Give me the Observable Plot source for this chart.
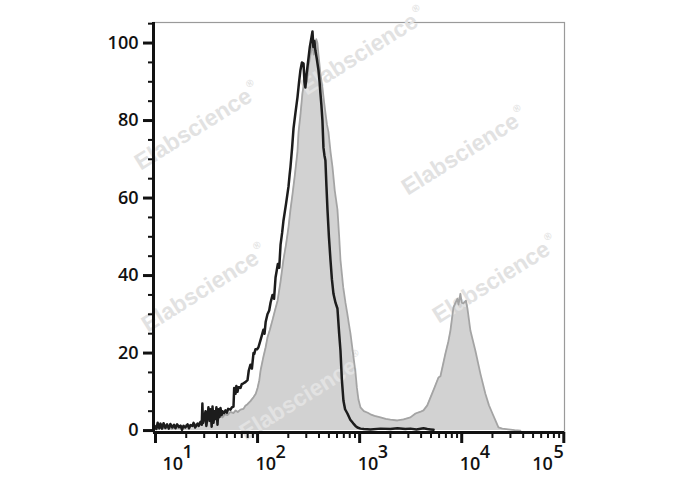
<!DOCTYPE html>
<html>
<head>
<meta charset="utf-8">
<script src="https://cdn.jsdelivr.net/npm/d3@7"></script>
<script src="https://cdn.jsdelivr.net/npm/@observablehq/plot@0.6"></script>
<style>
  html, body { margin: 0; padding: 0; background: #fff; }
  #chart svg { display: block; }
</style>
</head>
<body>
<div id="chart"></div>
<script>
// Filled (gray) histogram: fluorescence intensity vs % of max
const grayX = [10,10.8,11.5,12.5,13.5,14.5,15.7,17,18.8,20.6,22,23.6,25.8,27.6,29.5,31,33,35,37,39,41.4,43.3,45.3,48,50.7,54.3,58,61,64,68,72.8,76,79.7,85.2,91.2,96,100,104,107,114,120,125,132,140,148,157,168,179,190,201,210,220,232,246,252,262,275,294,305,315,330,345,355,365,376,386,395,413,432,447,462,478,495,518,542,570,606,630,649,690,726,759,790,813,850,880,910,940,973,1018,1100,1200,1276,1400,1600,1800,2000,2346,2700,3144,3525,3900,4221,4600,4938,5400,5920,6188,6926,7400,7751,8298,8700,9075,9300,9710,10000,10380,11000,11370,12160,13610,15230,17050,18500,20000,21500,22880,25000,28640,33000,37580];
const grayY = [0.8,0.4,0.9,0.5,1.0,0.4,0.9,0.6,1.2,1.5,1.0,1.8,1.4,2.4,1.8,3.0,2.4,3.4,2.6,3.6,3.0,3.8,3.4,4.2,4.0,4.8,4.5,5.2,4.8,5.4,5.6,6.4,6.8,7.6,8.6,9.5,11,13,15.5,19,21.5,24,26,28.5,31,33.5,38.5,44,48,52.5,57,61,66,72,77,81,87,92,90,94,97,99.5,97,98.5,101,100,97,92,88.5,85,82,79,77,72,68,62,57,50,44,37,33,30,27,25,21,18,15,11,8,6,5,4.6,4.2,3.8,3.4,3.0,2.8,2.6,2.9,3.4,4.4,4.8,5.2,6.5,8.5,11,13.7,14,19.9,23,25.8,31.8,33,34,32.5,35.3,33,32.8,33.5,31.5,25.8,20.6,14.7,9.5,6.5,4.4,2.5,0.8,0.5,0.3,0.1,0];

// Open (black) histogram
const blackX = [9.8,10.2,10.5,10.9,11.2,11.6,12,12.5,13,13.5,14,14.6,15.2,15.7,16.3,17,17.6,18.2,18.8,19.6,20.6,21.3,22,23,23.6,24.5,25.8,26.5,27.6,28.4,28.8,29.2,30,30.9,31.5,32.5,33,34,34.6,35.5,36.2,37,38,38.7,39.5,40.5,41.4,42.3,43.3,44.5,45.3,47,48.5,50,51.5,54.3,56,58.1,59,60.8,62,63.6,65,68.1,70,72.8,76,79.7,82,85.2,88,91.2,93,95.3,99,102,106,110,114,117,120,125,130,134,140,145,150,158,163,168,174,179,190,201,206,210,218,225,235,246,255,263,272,282,288,294,302,315,325,335,345,352,360,369,380,395,405,413,422,432,442,452,462,473,484,500,518,535,554,580,606,630,649,670,694,720,759,810,869,910,951,1018,1100,1276,1600,2000,2346,2800,3144,3600,4221,4600,4938,5300];
const blackY = [1.2,0.4,2.0,0.6,1.8,0.5,1.9,0.7,1.6,0.5,1.7,0.8,1.5,0.6,1.6,0.9,1.3,0.2,1.2,0.8,1.6,0.6,1.4,1.2,2.0,0.8,1.8,1.2,2.2,1.5,7.0,2.0,3.0,5.0,1.2,4.0,6.0,2.5,5.5,1.0,6.2,2.0,5.0,3.0,6.0,1.5,5.5,3.5,5.8,4.0,5.0,4.5,5.2,4.6,5.6,5.4,6.0,6.2,11,9.5,11.5,10,11.2,11,12,12.2,12.5,13,15.5,17,16,20,19.8,21,21,21.5,23,24.5,26,25,28,30,31,33,35,34,39.5,43,42,48,51,54,58.5,63,66,68,73,78,82,86,90,93,95,94.7,90,88.5,92,96,99,101,103,99,100.5,98,96,93,90,87,84,80,73,71,69.7,63,57,50,44,39,35.3,33,31.5,25,20.6,13,7.7,5.5,4.4,2.8,1.8,1.2,0.8,0.5,0.4,0.3,0.5,0.4,0.6,0.4,0.5,0.3,0.6,0.4,0.3,0.2];

// Axis ticks and labels
const yMajor = [0, 20, 40, 60, 80, 100];
const yMinor = [5, 10, 15, 25, 30, 35, 45, 50, 55, 65, 70, 75, 85, 90, 95, 105];
const xExponents = [1, 2, 3, 4, 5];
const xMinorMultipliers = [2, 3, 4, 5, 6, 7, 8, 9];
const watermarkText = "Elabscience";

const grayData = grayX.map((x, i) => ({x, y: grayY[i]}));
const blackData = blackX.map((x, i) => ({x, y: blackY[i]}));
const xMajor = xExponents.map(e => 10 ** e);
const xMinor = xExponents.slice(0, -1).flatMap(e => xMinorMultipliers.map(m => m * 10 ** e));

const xDomain = [9.56, 101600];
const yDomain = [-0.5, 105.3];

const FONT = "'Open Sans', 'Liberation Sans', sans-serif";

// watermark placement (svg pixels)
const wmPlaces = [[198,128],[364,53],[465,153],[205,290],[496,281],[303,398]];
const watermarks = () => {
  const g = d3.create("svg:g");
  for (const [cx, cy] of wmPlaces) {
    const t = g.append("text")
      .attr("transform", `translate(${cx},${cy}) rotate(-32)`)
      .attr("text-anchor", "middle")
      .attr("dominant-baseline", "middle")
      .attr("fill", "#e2e2e2")
      .attr("font-family", "'Liberation Sans', Arial, sans-serif")
      .attr("font-weight", "bold")
      .attr("font-size", 23);
    t.append("tspan").text(watermarkText);
    t.append("tspan").attr("font-size", 10).attr("dy", -10).attr("dx", 2).text("®");
  }
  return g.node();
};

const labelBase = (filter, anchor, dx) => Plot.text(xExponents.filter(filter), {
  x: e => 10 ** e, text: () => "10", frameAnchor: "bottom",
  textAnchor: anchor, dx, dy: 37, fontSize: 18, fill: "#111", fontWeight: 600
});
const labelExp = (filter, anchor, dx) => Plot.text(xExponents.filter(filter), {
  x: e => 10 ** e, text: e => String(e), frameAnchor: "bottom",
  textAnchor: anchor, dx, dy: 25, fontSize: 18, fill: "#111", fontWeight: 600
});

const chart = Plot.plot({
  width: 688,
  height: 490,
  marginLeft: 153,
  marginRight: 124,
  marginTop: 22,
  marginBottom: 58,
  style: {background: "#fff", fontFamily: FONT, color: "#111"},
  x: {type: "log", domain: xDomain, axis: null},
  y: {domain: yDomain, axis: null},
  marks: [
    Plot.frame({stroke: "#9a9a9a", strokeWidth: 1.2}),
    Plot.areaY(grayData, {x: "x", y: "y", fill: "#d2d2d2"}),
    watermarks,
    Plot.line(grayData, {x: "x", y: "y", stroke: "#a4a4a4", strokeWidth: 1.8}),
    Plot.line(blackData, {x: "x", y: "y", stroke: "#1c1c1c", strokeWidth: 2.5}),
    Plot.ruleX([xDomain[0]], {stroke: "#111", strokeWidth: 3}),
    Plot.ruleY([yDomain[0]], {stroke: "#111", strokeWidth: 3}),
    Plot.axisY(yMajor, {tickSize: 10, tickPadding: 5, strokeWidth: 3, fontSize: 18, fontWeight: 600, label: null, tickFormat: d => String(d), stroke: "#111", fill: "#111"}),
    Plot.axisY(yMinor, {tickSize: 5, strokeWidth: 2, tickFormat: () => "", label: null, stroke: "#111"}),
    Plot.axisX(xMajor, {tickSize: 11, strokeWidth: 3, tickFormat: () => "", label: null, stroke: "#111"}),
    Plot.axisX(xMinor, {tickSize: 6, strokeWidth: 2, tickFormat: () => "", label: null, stroke: "#111"}),
    labelBase(e => e === 1, "start", 7),
    labelExp(e => e === 1, "start", 27),
    labelBase(e => e > 1 && e < 5, "start", -2),
    labelExp(e => e > 1 && e < 5, "start", 18),
    labelBase(e => e === 5, "end", -11),
    labelExp(e => e === 5, "end", 0)
  ]
});
document.getElementById("chart").appendChild(chart);
</script>
</body>
</html>
